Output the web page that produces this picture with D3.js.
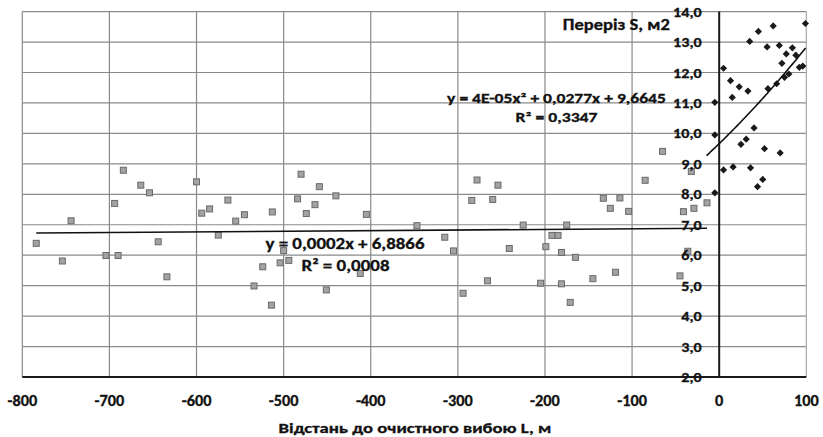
<!DOCTYPE html>
<html><head><meta charset="utf-8">
<script src="https://cdn.jsdelivr.net/npm/d3@7"></script>
<style>
html,body{margin:0;padding:0;background:#fff;}
text{font-family:Carlito, Lato, "Open Sans", sans-serif;font-weight:bold;fill:#111;stroke:#111;stroke-width:0.3px;}
</style></head>
<body>
<svg id="chart" width="823" height="437"></svg>
<script>
// ---- data ----
const xTicks = [-800,-700,-600,-500,-400,-300,-200,-100,0,100];
const yTicks = [2,3,4,5,6,7,8,9,10,11,12,13,14];
const grayX = [-784,-754,-744,-704,-694,-690,-684,-664,-654,-644,-634,-600,-594,-585,-575,-564,-555,-545,-534,-524,-514,-513,-504,-500,-494,-484,-480,-474,-464,-459,-451,-440,-412,-405,-347,-315,-305,-294,-284,-278,-266,-260,-254,-241,-225,-205,-199,-192,-185,-181,-181,-175,-171,-165,-145,-133,-125,-119,-114,-104,-85,-65,-45,-41,-36,-32,-29,-14];
const grayY = [6.39,5.81,7.13,5.99,7.70,5.99,8.79,8.30,8.05,6.44,5.29,8.41,7.38,7.52,6.66,7.81,7.12,7.33,4.99,5.62,4.36,7.42,5.75,6.15,5.83,7.85,8.66,7.37,7.66,8.25,4.86,7.95,5.40,7.34,6.97,6.59,6.14,4.75,7.80,8.47,5.16,7.83,8.30,6.22,6.99,5.08,6.28,6.65,6.65,6.09,5.06,6.99,4.45,5.93,5.23,7.87,7.54,5.44,7.88,7.44,8.46,9.41,5.32,7.43,6.13,8.75,7.54,7.72];
const blackX = [-5,-5,-5,5,5,13,15,16,23,25,31,33,35,36,40,44,45,50,52,55,56,62,66,69,70,72,75,77,80,84,88,92,96,99];
const blackY = [11.02,9.95,8.05,12.14,8.80,11.73,11.18,8.90,11.53,9.64,9.81,11.39,13.02,8.87,10.18,8.25,13.35,8.49,9.50,12.84,11.47,13.53,11.63,12.89,9.36,12.30,11.84,12.61,11.95,12.81,12.57,12.17,12.21,13.61];
const linCoef = [0.0002, 6.8866];          // y = a x + b
const polyCoef = [4e-5, 0.0277, 9.6645];   // y = a x^2 + b x + c
const linRange = [-784, -14];
const polyRange = [-14.5, 99.2];
const eqLin = ["y = 0,0002x + 6,8866", "R² = 0,0008"];
const eqPoly = ["y = 4E-05x² + 0,0277x + 9,6645", "R² = 0,3347"];
const yTitle = "Переріз S, м2";
const xTitle = "Відстань до очистного вибою L, м";

// ---- layout ----
const svg = d3.select("#chart");
const L = 22.3, R = 806.3, T = 11.6, B = 377;
const x = d3.scaleLinear().domain([-800,100]).range([L,R]);
const y = d3.scaleLinear().domain([2,14]).range([B,T]);
const fmtY = d => d.toFixed(1).replace(".", ",");

// grid
const g = svg.append("g");
g.selectAll(".hg").data(yTicks).join("line")
  .attr("x1",L).attr("x2",R).attr("y1",d=>y(d)).attr("y2",d=>y(d))
  .attr("stroke",d=> d===2 ? "none" : "#8a8a8a").attr("stroke-width",1.2);
g.selectAll(".vg").data(xTicks).join("line")
  .attr("x1",d=>x(d)).attr("x2",d=>x(d)).attr("y1",T).attr("y2",B)
  .attr("stroke",d=> d===0 ? "none" : (d===100 ? "#a8a8a8" : "#8a8a8a")).attr("stroke-width",1.2);
// axes lines
g.append("line").attr("x1",x(0)).attr("x2",x(0)).attr("y1",T).attr("y2",B)
  .attr("stroke","#1a1a1a").attr("stroke-width",2);
g.append("line").attr("x1",L).attr("x2",R).attr("y1",B).attr("y2",B)
  .attr("stroke","#1a1a1a").attr("stroke-width",2);

// points
svg.append("g").selectAll("rect").data(grayX.map((d,i)=>[d,grayY[i]])).join("rect")
  .attr("x",d=>x(d[0])-3).attr("y",d=>y(d[1])-3).attr("width",6).attr("height",6)
  .attr("fill","#a3a3a3").attr("stroke","#6a6a6a").attr("stroke-width",1);
svg.append("g").selectAll("path").data(blackX.map((d,i)=>[d,blackY[i]])).join("path")
  .attr("d","M0,-3.6L3.6,0L0,3.6L-3.6,0Z")
  .attr("transform",d=>`translate(${x(d[0])},${y(d[1])})`)
  .attr("fill","#1a1a1a");

// trendlines
const line = d3.line().x(d=>x(d[0])).y(d=>y(d[1]));
svg.append("path").datum(linRange.map(v=>[v, linCoef[0]*v+linCoef[1]]))
  .attr("d",line).attr("fill","none").attr("stroke","#111").attr("stroke-width",1.6);
const polyPts = d3.range(polyRange[0], polyRange[1]+0.01, (polyRange[1]-polyRange[0])/60)
  .map(v=>[v, polyCoef[0]*v*v+polyCoef[1]*v+polyCoef[2]]);
svg.append("path").datum(polyPts)
  .attr("d",line).attr("fill","none").attr("stroke","#111").attr("stroke-width",1.6);

// texts with horizontal stretch helper
function stxt(str, px, py, size, anchor, sx){
  return svg.append("text").text(str)
    .attr("transform",`translate(${px},${py}) scale(${sx},1)`)
    .attr("text-anchor",anchor).style("font-size",size+"px");
}
function wtxt(str, cx, py, size, width){
  const t = svg.append("text").text(str)
    .attr("x",cx).attr("y",py).attr("text-anchor","middle").style("font-size",size+"px");
  const nat = t.node().getComputedTextLength();
  const sx = width/nat;
  t.attr("x",null).attr("y",null).attr("transform",`translate(${cx},${py}) scale(${sx},1)`);
  return t;
}
// y tick labels
yTicks.forEach(v=> stxt(fmtY(v), 701.7, y(v)+5, 14, "end", 1.15));
// x tick labels
xTicks.forEach(v=> stxt(String(v), x(v), 406, 15.5, "middle", 1.05));
// titles
wtxt(yTitle, 616.3, 29.5, 15, 107);
wtxt(xTitle, 415, 432.5, 14.5, 273);
// equations
wtxt(eqLin[0], 345, 249, 16.3, 159);
wtxt(eqLin[1], 345.5, 270.5, 16.3, 88);
wtxt(eqPoly[0], 556.5, 103, 13.5, 219);
wtxt(eqPoly[1], 556.5, 121.5, 13.5, 82);
</script>
</body></html>
